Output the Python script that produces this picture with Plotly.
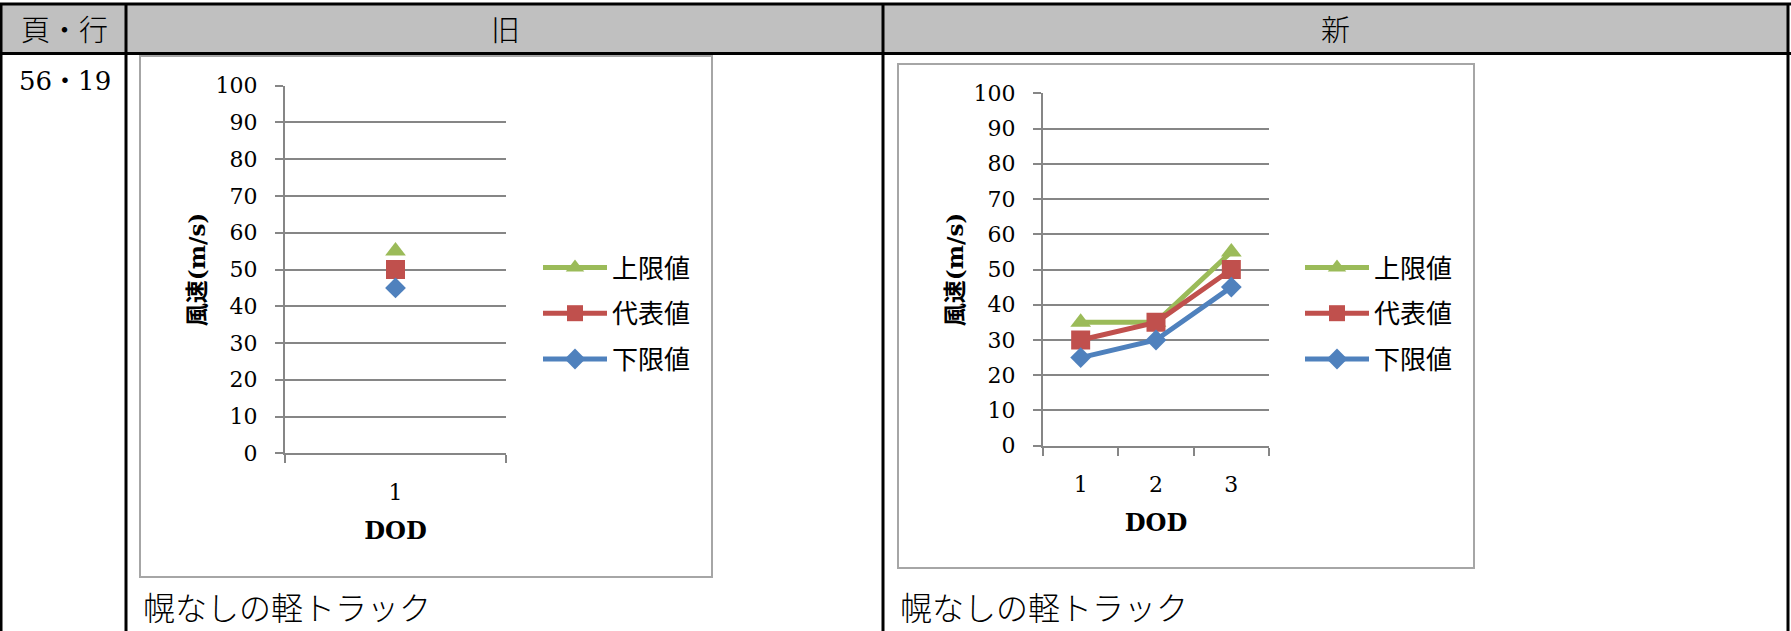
import plotly.graph_objects as go

W, H = 1791, 631

# ---- data -------------------------------------------------------------
categories_old = ["1"]
categories_new = ["1", "2", "3"]

upper_old = [55]
rep_old = [50]
lower_old = [45]

upper_new = [35, 35, 55]
rep_new = [30, 35, 50]
lower_new = [25, 30, 45]

y_tick_values = [0, 10, 20, 30, 40, 50, 60, 70, 80, 90, 100]
series_names = ["上限値", "代表値", "下限値"]
header_labels = ["頁・行", "旧", "新"]
row_label = "56・19"
caption_text = "幌なしの軽トラック"
y_title_text = "風速(m/s)"
x_title_text = "DOD"

# ---- styling ----------------------------------------------------------
GREEN, RED, BLUE = "#9BBB59", "#C0504D", "#4F81BD"
GRID = "#868686"
BOX = "#A6A6A6"
SERIF = "DejaVu Serif, Noto Sans CJK JP"
JP = "Noto Sans CJK JP"

styles = [
    dict(color=GREEN, symbol="triangle-up", size=18),
    dict(color=RED, symbol="square", size=19),
    dict(color=BLUE, symbol="diamond", size=16),
]


def px(x):
    return x / W


def py(y):
    return 1 - y / H


fig = go.Figure()

panels = [
    dict(cats=categories_old, series=[upper_old, rep_old, lower_old],
         xa="x", ya="y", legend="legend", tag="old"),
    dict(cats=categories_new, series=[upper_new, rep_new, lower_new],
         xa="x2", ya="y2", legend="legend2", tag="new"),
]

for p in panels:
    for name, vals, st in zip(series_names, p["series"], styles):
        fig.add_trace(go.Scatter(
            x=p["cats"], y=vals, name=name,
            mode="lines+markers",
            line=dict(color=st["color"], width=5),
            marker=dict(color=st["color"], symbol=st["symbol"], size=st["size"]),
            xaxis=p["xa"], yaxis=p["ya"],
            legend=p["legend"], legendgroup=p["tag"] + name,
            hoverinfo="skip",
        ))


def x_axis(domain, ncat, anchor):
    return dict(
        domain=domain, anchor=anchor, type="category", automargin=False,
        range=[-0.5, ncat - 0.5],
        tickson="boundaries", ticks="outside", ticklen=8, tickwidth=2,
        tickcolor=GRID, showline=True, linecolor=GRID, linewidth=2,
        showgrid=False, zeroline=False,
        tickfont=dict(family=SERIF, size=22, color="black"),
        ticklabelstandoff=18,
        title=dict(text=x_title_text, standoff=18,
                   font=dict(family=SERIF, size=24, color="black", weight="bold")),
    )


def y_axis(domain, anchor):
    return dict(
        domain=domain, anchor=anchor, range=[0, 100], automargin=False,
        tickvals=y_tick_values, ticks="outside", ticklen=8, tickwidth=2,
        tickcolor=GRID, showline=True, linecolor=GRID, linewidth=2,
        showgrid=True, gridcolor=GRID, gridwidth=2, zeroline=False,
        tickfont=dict(family=SERIF, size=22, color="black"),
        ticklabelstandoff=13,
        title=dict(text=y_title_text, standoff=4,
                   font=dict(family=SERIF, size=23, color="black", weight="bold")),
    )


legend_common = dict(
    xanchor="left", yanchor="top", bgcolor="rgba(0,0,0,0)",
    font=dict(family=JP, size=26, color="black"),
    traceorder="grouped", tracegroupgap=9, itemwidth=64,
    itemclick=False, itemdoubleclick=False,
)

fig.update_layout(
    width=W, height=H,
    margin=dict(l=0, r=0, t=0, b=0, pad=0, autoexpand=False),
    paper_bgcolor="white", plot_bgcolor="white",
    xaxis=x_axis([px(285), px(506)], len(categories_old), "y"),
    yaxis=y_axis([py(453.3), py(85.7)], "x"),
    xaxis2=x_axis([px(1043), px(1269)], len(categories_new), "y2"),
    yaxis2=y_axis([py(445.7), py(93.3)], "x2"),
    legend=dict(x=px(538), y=py(244), **legend_common),
    legend2=dict(x=px(1300), y=py(244), **legend_common),
)

# ---- table frame ------------------------------------------------------
shapes = [
    dict(type="rect", xref="paper", yref="paper", x0=px(1), x1=px(1788),
         y0=py(53), y1=py(4), fillcolor="#C0C0C0", line=dict(width=0), layer="below"),
    dict(type="line", xref="paper", yref="paper", x0=px(0), x1=px(1791),
         y0=py(4), y1=py(4), line=dict(color="black", width=3)),
    dict(type="line", xref="paper", yref="paper", x0=px(0), x1=px(1791),
         y0=py(53.5), y1=py(53.5), line=dict(color="black", width=3)),
]
for xv in [1, 126, 883, 1788]:
    shapes.append(dict(type="line", xref="paper", yref="paper", x0=px(xv), x1=px(xv),
                       y0=py(3), y1=py(631), line=dict(color="black", width=3)))
# chart frames
shapes.append(dict(type="rect", xref="paper", yref="paper", x0=px(140), x1=px(712),
                   y0=py(577), y1=py(56), line=dict(color=BOX, width=2)))
shapes.append(dict(type="rect", xref="paper", yref="paper", x0=px(898), x1=px(1474),
                   y0=py(568), y1=py(64), line=dict(color=BOX, width=2)))
fig.update_layout(shapes=shapes)

# ---- table text -------------------------------------------------------
annotations = []
for label, cx in zip(header_labels, [64, 505, 1335]):
    annotations.append(dict(text=label, x=px(cx), y=py(28), xref="paper", yref="paper",
                            showarrow=False, xanchor="center", yanchor="middle",
                            font=dict(family=JP, size=29, color="black", weight=300)))
annotations.append(dict(text=row_label, x=px(65), y=py(81), xref="paper", yref="paper",
                        showarrow=False, xanchor="center", yanchor="middle",
                        font=dict(family=SERIF, size=26, color="black")))
for cx in [141, 898]:
    annotations.append(dict(text=caption_text, x=px(cx), y=py(606), xref="paper", yref="paper",
                            showarrow=False, xanchor="left", yanchor="middle",
                            font=dict(family=JP, size=32, color="black", weight=300)))
fig.update_layout(annotations=annotations)

fig.write_html("out.html")
